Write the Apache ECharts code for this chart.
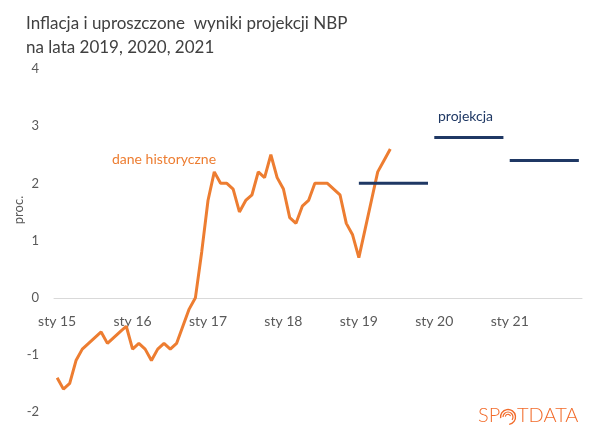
<!DOCTYPE html>
<html><head><meta charset="utf-8">
<script src="https://cdn.jsdelivr.net/npm/echarts@6/dist/echarts.min.js"></script>
<style>html,body{margin:0;padding:0;background:#fff}#c{width:600px;height:431px}</style>
</head><body><div id="c"></div>
<script>
var years = ['15','16','17','18','19','20','21'];
var monthNames = ['sty','lut','mar','kwi','maj','cze','lip','sie','wrz','paź','lis','gru'];
var categories = [];
years.forEach(function(y){ monthNames.forEach(function(m){ categories.push(m + ' ' + y); }); });

// CPI y/y, Jan 2015 – Jun 2019
var historical = [
 -1.4,-1.6,-1.5,-1.1,-0.9,-0.8,-0.7,-0.6,-0.8,-0.7,-0.6,-0.5,
 -0.9,-0.8,-0.9,-1.1,-0.9,-0.8,-0.9,-0.8,-0.5,-0.2,0.0,0.8,
 1.7,2.2,2.0,2.0,1.9,1.5,1.7,1.8,2.2,2.1,2.5,2.1,
 1.9,1.4,1.3,1.6,1.7,2.0,2.0,2.0,1.9,1.8,1.3,1.1,
 0.7,1.2,1.7,2.2,2.4,2.6
];
var projYears = ['19','20','21'];
var projValues = [2.0, 2.8, 2.4];
var yTicks = [-2,-1,0,1,2,3,4];

function projSeries(i){
  var d = categories.map(function(c){ return c.slice(-2) === projYears[i] ? projValues[i] : null; });
  return {type:'line', data:d, symbol:'none', silent:true,
    lineStyle:{color:'#1F3864', width:3}, connectNulls:false};
}

var chart = echarts.init(document.getElementById('c'), null, {renderer:'canvas'});
var FONT = 'Lato, "Open Sans", sans-serif';
chart.setOption({
  animation:false,
  textStyle:{fontFamily:FONT},
  grid:{left:54, right:18, top:69, bottom:19, containLabel:false},
  title:{text:'Inflacja i uproszczone  wyniki projekcji NBP\nna lata 2019, 2020, 2021',
    left:21, top:7,
    textStyle:{fontFamily:FONT, fontSize:17, fontWeight:'normal', color:'#404040', lineHeight:24}},
  xAxis:{type:'category', data:categories, boundaryGap:true, position:'bottom', offset:-114,
    axisLine:{onZero:false, lineStyle:{color:'#d9d9d9', width:1}},
    axisTick:{show:false},
    axisLabel:{interval:11, color:'#595959', fontSize:14, margin:16, fontFamily:FONT},
    splitLine:{show:false}},
  yAxis:{type:'value', min:-2, max:4, interval:1,
    axisLine:{show:false}, axisTick:{show:false}, splitLine:{show:false},
    axisLabel:{color:'#595959', fontSize:13, margin:15, fontFamily:FONT,
      formatter:function(v){ return yTicks.indexOf(v) >= 0 ? String(v) : ''; }}},
  series:[
    {type:'line', data:historical, symbol:'none', silent:true,
      lineStyle:{color:'#ED7D31', width:3}},
    projSeries(0), projSeries(1), projSeries(2)
  ],
  graphic:[
    {type:'text', x:19, y:210, rotation:Math.PI/2, style:{text:'proc.', fill:'#595959', fontSize:13, fontFamily:FONT, align:'center', verticalAlign:'middle'}},
    {type:'text', left:112, top:152, style:{text:'dane historyczne', fill:'#ED7D31', fontSize:14, fontFamily:FONT}},
    {type:'text', left:438, top:109, style:{text:'projekcja', fill:'#1F3864', fontSize:14, fontFamily:FONT}},
    {type:'text', left:478, top:406, style:{text:'SP', fill:'#F26B2A', fontSize:20, fontFamily:FONT, fontWeight:300}},
    {type:'arc', shape:{cx:508, cy:417, r:7.5, startAngle:-Math.PI*1.05, endAngle:Math.PI*0.45}, style:{stroke:'#F26B2A', lineWidth:1.4, fill:null}},
    {type:'arc', shape:{cx:508, cy:417, r:5, startAngle:-Math.PI*1.0, endAngle:Math.PI*0.2}, style:{stroke:'#F26B2A', lineWidth:1.2, fill:null}},
    {type:'arc', shape:{cx:508, cy:417, r:2.7, startAngle:-Math.PI*0.95, endAngle:-Math.PI*0.1}, style:{stroke:'#F26B2A', lineWidth:1.1, fill:null}},
    {type:'text', left:517, top:406, style:{text:'TDATA', fill:'#F26B2A', fontSize:20, fontFamily:FONT, fontWeight:300}}
  ]
});
</script></body></html>
